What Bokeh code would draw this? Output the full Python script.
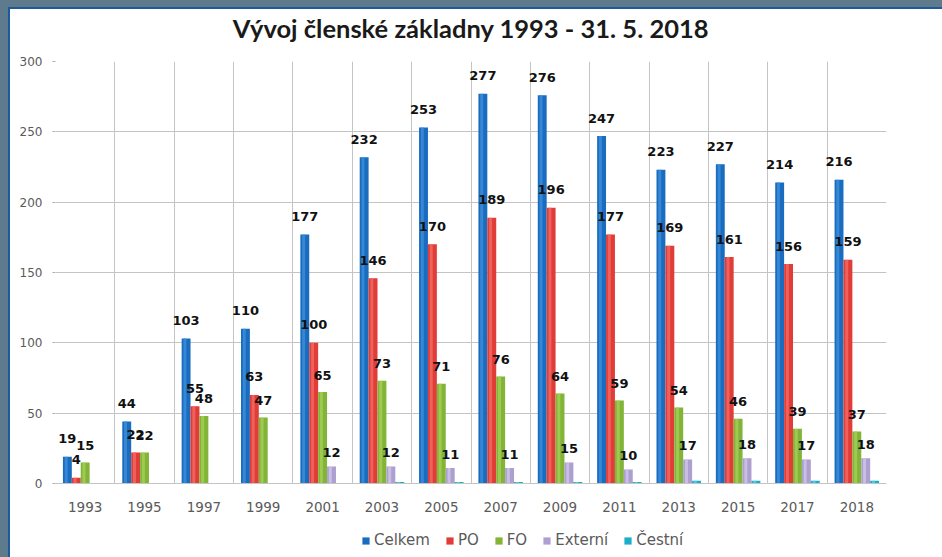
from bokeh.plotting import figure
from bokeh.models import ColumnDataSource, FactorRange, Range1d, LabelSet, Legend, LegendItem, FixedTicker, Title
from bokeh.layouts import column
from bokeh.transform import dodge
from bokeh.core.properties import value
from bokeh.embed import file_html
from bokeh.resources import INLINE

years = ["1993", "1995", "1997", "1999", "2001", "2003", "2005",
         "2007", "2009", "2011", "2013", "2015", "2017", "2018"]
celkem = [19, 44, 103, 110, 177, 232, 253, 277, 276, 247, 223, 227, 214, 216]
po = [4, 22, 55, 63, 100, 146, 170, 189, 196, 177, 169, 161, 156, 159]
fo = [15, 22, 48, 47, 65, 73, 71, 76, 64, 59, 54, 46, 39, 37]
externi = [0, 0, 0, 0, 12, 12, 11, 11, 15, 10, 17, 18, 17, 18]
cestni = [0, 0, 0, 0, 0, 1, 1, 1, 1, 1, 2, 2, 2, 2]
series_names = ["Celkem", "PO", "FO", "Externí", "Čestní"]
y_ticks = [0, 50, 100, 150, 200, 250, 300]
title_text = "Vývoj členské základny 1993 - 31. 5. 2018"

cols = ["celkem", "po", "fo", "externi", "cestni"]
series = [celkem, po, fo, externi, cestni]
colors = ["#1a6cbf", "#e03c38", "#82b537", "#ad9fcf", "#1aaecb"]
highlights = ["#3d8fdc", "#f26a64", "#a5d05a", "#cfc5e8", "#5cd0e6"]
offsets = [-0.3, -0.15, 0.0, 0.15, 0.3]
label_shift = [18, 18, 17, 14, None]

data = dict(year=years)
for c, s in zip(cols, series):
    data[c] = s
    data[c + "_txt"] = [str(v) if v > 0 else "" for v in s]
src = ColumnDataSource(data)


def blank_strip(height):
    f = figure(width=932, height=height, output_backend="svg", toolbar_location=None,
               x_range=Range1d(0, 1), y_range=Range1d(0, 1),
               x_axis_location=None, y_axis_location=None,
               min_border=0, background_fill_color="white", border_fill_color="white")
    f.outline_line_color = None
    f.xgrid.grid_line_color = None
    f.ygrid.grid_line_color = None
    f.styles = {"background-color": "white"}
    return f


# title strip
p0 = blank_strip(40)
p0.title = Title(text=title_text, align="center", text_font="Lato", text_font_style="bold",
                 text_font_size="25.5px", text_color="#1a1a1a", standoff=2)

# main chart
p = figure(x_range=FactorRange(*years), y_range=Range1d(0, 300),
           width=932, height=480, output_backend="svg", toolbar_location=None,
           min_border_left=45, min_border_right=56, min_border_top=12, min_border_bottom=46,
           background_fill_color="white", border_fill_color="white")
p.outline_line_color = None
p.styles = {"background-color": "white"}

for c, col, hl, off in zip(cols, colors, highlights, offsets):
    p.vbar(x=dodge("year", off, range=p.x_range), top=c, width=0.15, source=src,
           fill_color=col, line_color=None)
    p.vbar(x=dodge("year", off - 0.02, range=p.x_range), top=c, width=0.05, source=src,
           fill_color=hl, line_color=None, fill_alpha=0.8)

for c, off, sh in zip(cols, offsets, label_shift):
    if sh is None:
        continue
    ls = LabelSet(x=dodge("year", off, range=p.x_range), y=c, text=c + "_txt", source=src,
                  y_offset=sh, text_align="center", text_baseline="middle",
                  text_font=value("DejaVu Sans"), text_font_style="bold",
                  text_font_size="13px", text_color="#111111")
    p.add_layout(ls)

p.xgrid.ticker = FixedTicker(ticks=list(range(15)))
p.xgrid.grid_line_color = "#c4c4c4"
p.ygrid.grid_line_color = "#c4c4c4"
p.yaxis.ticker = FixedTicker(ticks=y_ticks)

p.yaxis.axis_line_color = None
p.yaxis.major_tick_line_color = "#b0b0b0"
p.yaxis.major_tick_out = 3
p.yaxis.major_tick_in = 0
p.yaxis.minor_tick_line_color = None
p.yaxis.major_label_standoff = 10
p.yaxis.major_label_text_font = "DejaVu Sans"
p.yaxis.major_label_text_font_size = "12px"
p.yaxis.major_label_text_color = "#5a5a5a"

p.xaxis.axis_line_color = "#c4c4c4"
p.xaxis.major_tick_line_color = None
p.xaxis.major_tick_out = 0
p.xaxis.major_label_standoff = 18
p.xaxis.major_label_text_font = "DejaVu Sans"
p.xaxis.major_label_text_font_size = "13.5px"
p.xaxis.major_label_text_color = "#5a5a5a"

# legend strip below the chart
p2 = blank_strip(28)
dummy = ColumnDataSource(dict(x=[-10], top=[-10]))
items = []
for name, col in zip(series_names, colors):
    r = p2.vbar(x="x", top="top", width=0.1, source=dummy, fill_color=col, line_color=None)
    items.append(LegendItem(label=name, renderers=[r]))
legend = Legend(items=items, orientation="horizontal", location=(306, 8),
                padding=0, margin=0, spacing=15, label_standoff=4,
                glyph_width=9, glyph_height=9,
                label_text_font="DejaVu Sans", label_text_font_size="15px",
                label_text_color="#5a5a5a", border_line_color=None,
                background_fill_alpha=0)
p2.add_layout(legend, "center")

layout = column(p0, p, p2, spacing=0, styles={"background-color": "white"})

html = file_html(layout, INLINE)
style = ("<style>html { background: #5d7b8d; overflow: hidden; } "
         "body { margin: 7px 0 0 8px !important; padding: 0 !important; "
         "border-top: 2px solid #1d5a9a; border-left: 2px solid #1d5a9a; "
         "background: #ffffff; overflow: hidden; }</style>")
html = html.replace("</head>", style + "</head>", 1)
open("out.html", "w").write(html)
